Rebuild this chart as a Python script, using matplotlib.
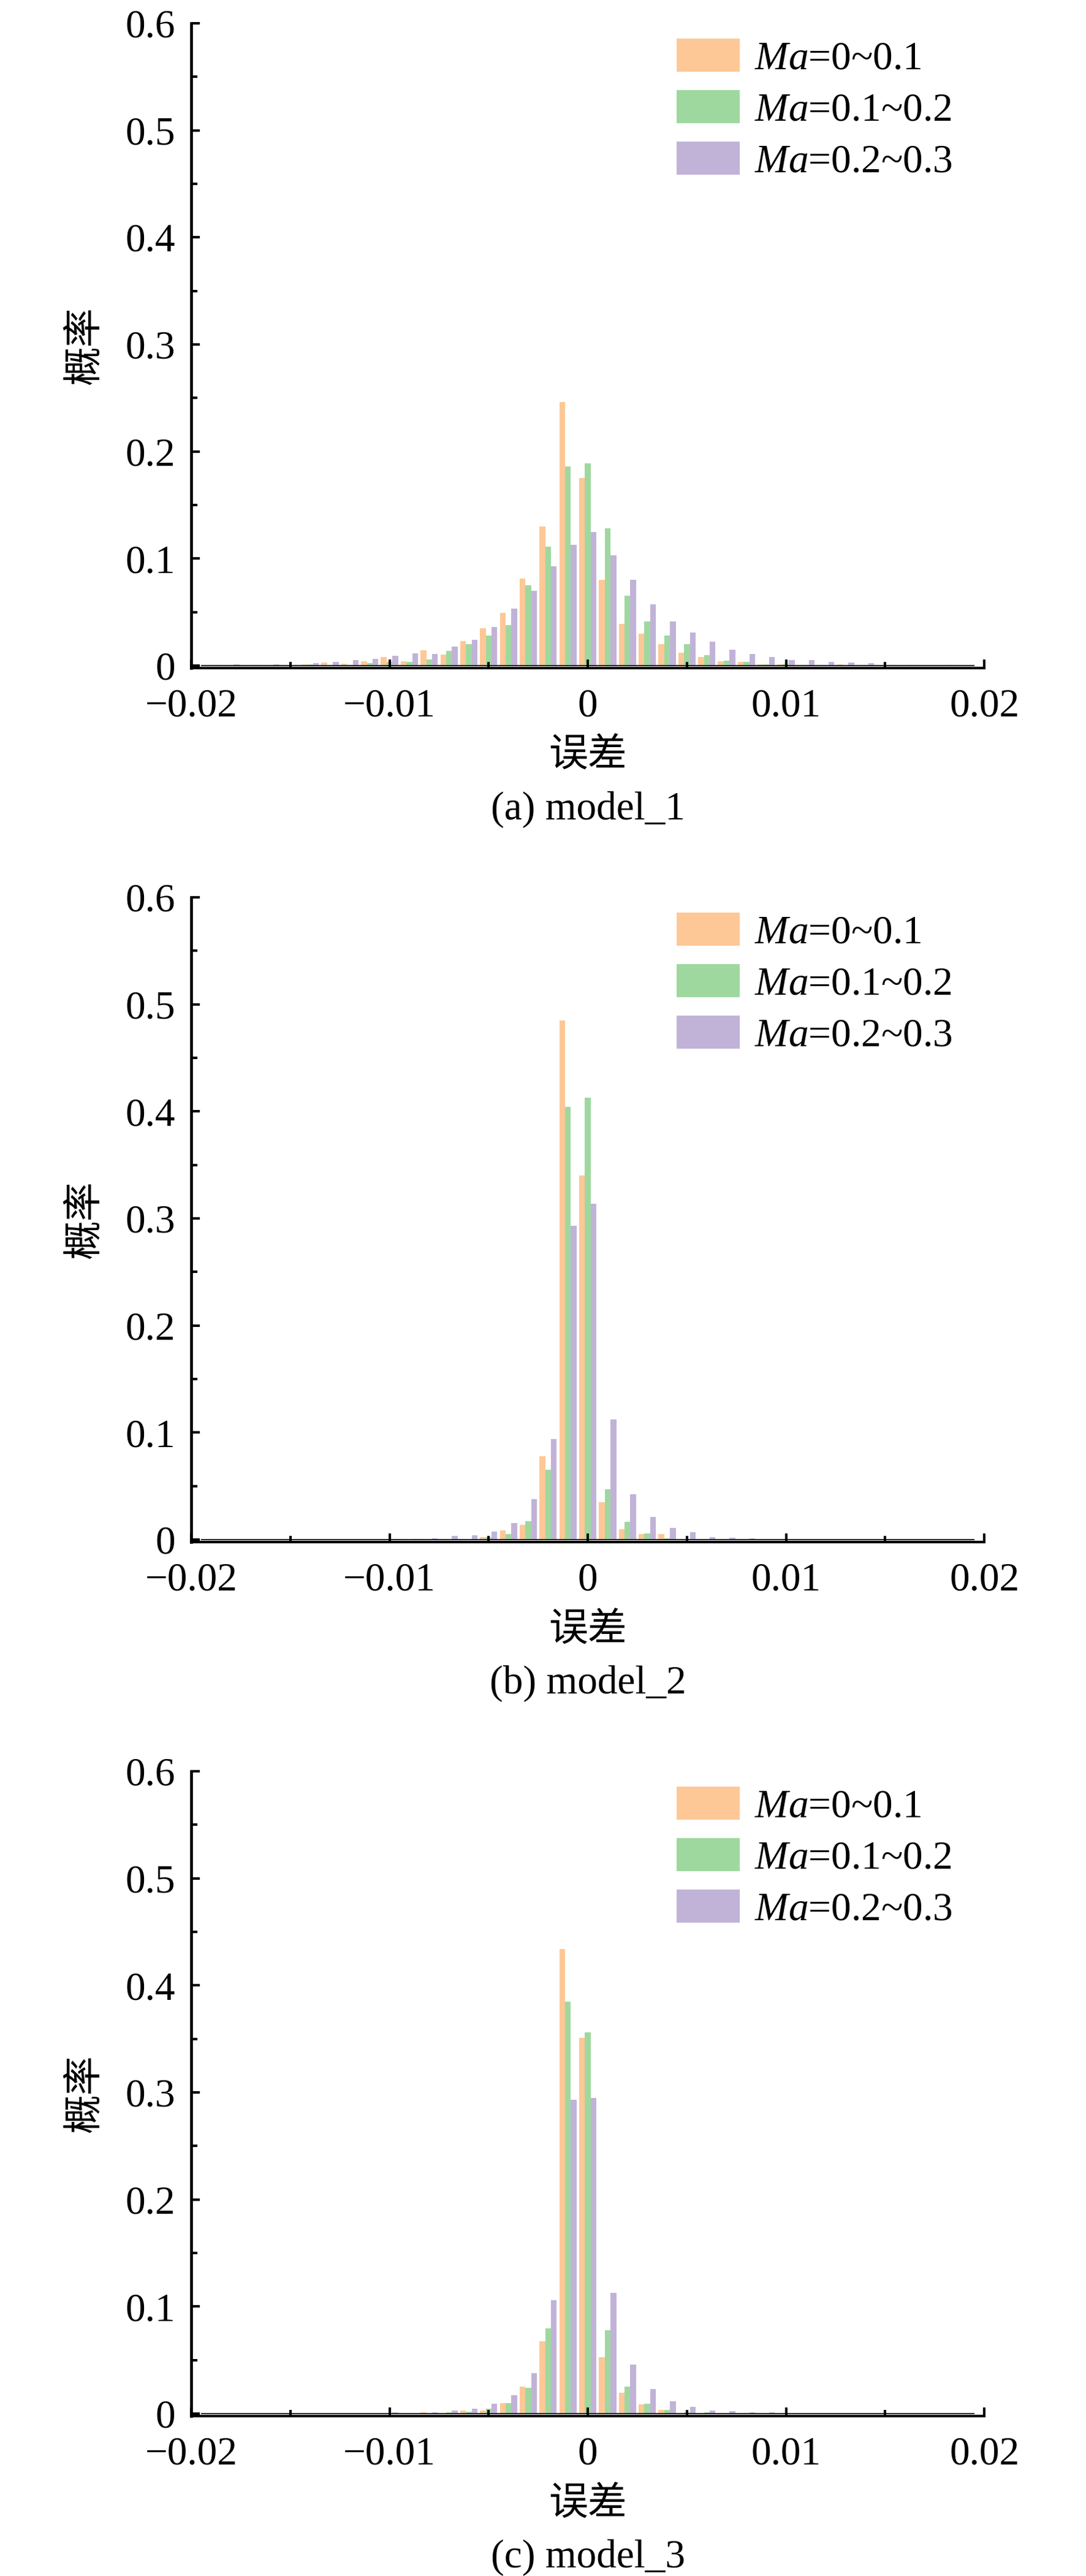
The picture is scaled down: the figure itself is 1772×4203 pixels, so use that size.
import matplotlib
matplotlib.use('Agg')
import matplotlib.pyplot as plt
import numpy as np
from matplotlib.ticker import MultipleLocator, FuncFormatter

plt.rcParams['font.family'] = ['Liberation Serif', 'Noto Sans CJK SC']
plt.rcParams['mathtext.fontset'] = 'custom'
plt.rcParams['mathtext.rm'] = 'Liberation Serif'
plt.rcParams['mathtext.it'] = 'Liberation Serif:italic'

# bin centres of the error histogram
bins = [-0.019, -0.018, -0.017, -0.016, -0.015, -0.014, -0.013, -0.012, -0.011, -0.010,
        -0.009, -0.008, -0.007, -0.006, -0.005, -0.004, -0.003, -0.002, -0.001, 0.0,
        0.001, 0.002, 0.003, 0.004, 0.005, 0.006, 0.007, 0.008, 0.009, 0.010,
        0.011, 0.012, 0.013, 0.014, 0.015, 0.016, 0.017, 0.018, 0.019]

labels = ['$\\mathit{Ma}$=0~0.1', '$\\mathit{Ma}$=0.1~0.2', '$\\mathit{Ma}$=0.2~0.3']
colors = ['#FDC896', '#9FD89F', '#C1B3D7']
captions = ['(a) model_1', '(b) model_2', '(c) model_3']

# model_1
m1_ma1 = [0, 0, 0, 0, 0, 0.001, 0.003, 0.0017, 0.004, 0.008,
          0.004, 0.0143, 0.0105, 0.023, 0.035, 0.049, 0.081, 0.130, 0.246, 0.175,
          0.080, 0.039, 0.030, 0.020, 0.012, 0.008, 0.004, 0.0034, 0.0011, 0.0011,
          0, 0, 0.0011, 0, 0, 0, 0, 0, 0]
m1_ma2 = [0, 0, 0, 0, 0, 0.001, 0, 0.0008, 0.0023, 0.0034,
          0.0034, 0.0057, 0.014, 0.020, 0.028, 0.038, 0.075, 0.111, 0.186, 0.189,
          0.128, 0.065, 0.041, 0.028, 0.020, 0.0095, 0.0046, 0.0034, 0.0011, 0.0017,
          0.0006, 0, 0, 0, 0, 0, 0, 0, 0]
m1_ma3 = [0.0003, 0.0012, 0.0006, 0.001, 0.0006, 0.0023, 0.0034, 0.005, 0.0063, 0.0091,
          0.0114, 0.0109, 0.018, 0.024, 0.036, 0.053, 0.070, 0.093, 0.113, 0.125,
          0.103, 0.080, 0.057, 0.041, 0.031, 0.0225, 0.0149, 0.0109, 0.008, 0.0051,
          0.0051, 0.0034, 0.0029, 0.0023, 0.0006, 0.0006, 0, 0.0006, 0]

# model_2
m2_ma1 = [0, 0, 0, 0, 0, 0, 0, 0, 0, 0,
          0, 0.0005, 0, 0, 0.0025, 0.0084, 0.0135, 0.0777, 0.485, 0.340,
          0.0352, 0.0099, 0.005, 0.005, 0, 0, 0, 0, 0, 0,
          0, 0, 0, 0, 0, 0, 0, 0, 0]
m2_ma2 = [0, 0, 0, 0, 0, 0, 0, 0, 0, 0,
          0, 0, 0, 0, 0.0025, 0.0053, 0.0173, 0.0653, 0.404, 0.413,
          0.047, 0.0168, 0.0059, 0.001, 0, 0, 0, 0, 0, 0,
          0, 0, 0, 0, 0, 0, 0, 0, 0]
m2_ma3 = [0, 0, 0, 0, 0, 0, 0, 0, 0, 0.0005,
          0.0005, 0.001, 0.0032, 0.0042, 0.0076, 0.0156, 0.0379, 0.0939, 0.293, 0.314,
          0.112, 0.0425, 0.0215, 0.011, 0.007, 0.0025, 0.0019, 0.001, 0, 0,
          0, 0, 0, 0, 0, 0, 0, 0, 0]

# model_3
m3_ma1 = [0, 0, 0, 0, 0, 0, 0, 0, 0, 0,
          0, 0.0015, 0, 0.0027, 0.0032, 0.0099, 0.0253, 0.0676, 0.434, 0.351,
          0.053, 0.0198, 0.0084, 0.0038, 0, 0, 0, 0, 0, 0,
          0, 0, 0, 0, 0, 0, 0, 0, 0]
m3_ma2 = [0, 0, 0, 0, 0, 0, 0, 0, 0, 0,
          0, 0, 0.001, 0.0019, 0.0044, 0.0099, 0.0244, 0.0796, 0.385, 0.356,
          0.078, 0.0253, 0.009, 0.0038, 0.001, 0.001, 0, 0, 0, 0,
          0, 0, 0, 0, 0, 0, 0, 0, 0]
m3_ma3 = [0, 0, 0, 0, 0, 0, 0, 0, 0, 0.001,
          0, 0.0015, 0.0032, 0.0044, 0.009, 0.0175, 0.0381, 0.106, 0.293, 0.295,
          0.113, 0.0459, 0.0227, 0.0118, 0.0061, 0.003, 0.0021, 0.0015, 0.001, 0,
          0, 0, 0, 0, 0, 0, 0, 0, 0]

panels = [[m1_ma1, m1_ma2, m1_ma3],
          [m2_ma1, m2_ma2, m2_ma3],
          [m3_ma1, m3_ma2, m3_ma3]]

x = np.array(bins)
w = 0.00029
offsets = [-w, 0, w]


def xfmt(v, pos):
    if abs(v) < 1e-9:
        return '0'
    return f'{v:.2f}'.replace('-', '\u2212')


def yfmt(v, pos):
    if abs(v) < 1e-9:
        return '0'
    return f'{v:.1f}'


fig = plt.figure(figsize=(17.72, 42.03), dpi=100)
bottoms = [0.7407, 0.4014, 0.0621]

for p, (vals, cap) in enumerate(zip(panels, captions)):
    ax = fig.add_axes([0.1761, bottoms[p], 0.7303, 0.2503])
    for i in range(3):
        ax.bar(x + offsets[i], vals[i], width=w, color=colors[i], label=labels[i], linewidth=0)
    ax.hlines(0, x[0] - 0.0005, x[-1] + 0.0005, color='black', linewidth=1.2)

    ax.set_xlim(-0.02, 0.02)
    ax.set_ylim(-0.0022, 0.6)
    ax.xaxis.set_major_locator(MultipleLocator(0.01))
    ax.xaxis.set_minor_locator(MultipleLocator(0.005))
    ax.yaxis.set_major_locator(MultipleLocator(0.1))
    ax.yaxis.set_minor_locator(MultipleLocator(0.05))
    ax.xaxis.set_major_formatter(FuncFormatter(xfmt))
    ax.yaxis.set_major_formatter(FuncFormatter(yfmt))

    ax.spines['top'].set_visible(False)
    ax.spines['right'].set_visible(False)
    ax.spines['left'].set_linewidth(3.3)
    ax.spines['bottom'].set_linewidth(3.0)
    ax.tick_params(axis='both', which='major', direction='in', length=10, width=2.9, labelsize=47)
    ax.tick_params(axis='both', which='minor', direction='in', length=7, width=2.9)
    ax.tick_params(axis='x', which='major', pad=24)
    ax.tick_params(axis='y', which='major', pad=19)

    ax.set_xlabel('误差', fontsize=46, family=['Noto Sans CJK SC'])
    ax.xaxis.set_label_coords(0.5, -0.136)
    ax.xaxis.label.set_va('center')
    ax.set_ylabel('概率', fontsize=46, family=['Noto Sans CJK SC'])
    ax.yaxis.set_label_coords(-0.1345, 0.5)
    ax.yaxis.label.set_va('center')

    ax.text(0.5, -0.2196, cap, transform=ax.transAxes, ha='center', va='center', fontsize=47)

    ax.legend(loc='upper left', bbox_to_anchor=(0.612, 0.976), frameon=False, fontsize=47,
              borderpad=0, borderaxespad=0, handlelength=1.57, handleheight=0.9,
              handletextpad=0.37, labelspacing=0.31)

fig.savefig('out.png', dpi=100)
